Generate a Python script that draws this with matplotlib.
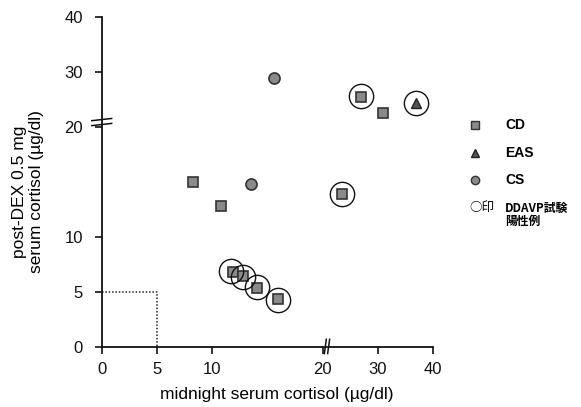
import numpy as np
import matplotlib
matplotlib.use("Agg")
import matplotlib.pyplot as plt
from matplotlib.lines import Line2D

plt.rcParams['font.family'] = ['Liberation Sans', 'Noto Sans CJK JP', 'DejaVu Sans']

# ---- data ----
cd_x = [8.3, 10.8, 11.9, 12.8, 14.1, 16.0, 23.6, 26.9, 31.0]
cd_y = [15.0, 12.8, 6.8, 6.5, 5.4, 4.4, 13.9, 25.5, 22.5]
eas_x = [36.9]
eas_y = [24.4]
cs_x = [15.6, 13.5]
cs_y = [29.0, 14.8]
pos_x = [11.7, 12.8, 14.1, 16.0, 23.6, 26.9, 36.9]   # DDAVP test positive (circled)
pos_y = [6.9, 6.4, 5.5, 4.3, 13.9, 25.6, 24.4]
ticks = [0, 5, 10, 20, 30, 40]
cut_x = [0, 5, 5]
cut_y = [5, 5, 0]
legend_labels = ["CD", "EAS", "CS", "DDAVP試験\n陽性例"]
xlabel = "midnight serum cortisol (µg/dl)"
ylabel = "post-DEX 0.5 mg\nserum cortisol (µg/dl)"


def fwd(v):
    v = np.asarray(v, dtype=float)
    return np.where(v <= 20, v, 20 + (v - 20) / 2.0)


def inv(t):
    t = np.asarray(t, dtype=float)
    return np.where(t <= 20, t, 20 + (t - 20) * 2.0)


W, H = 581, 407
fig = plt.figure(figsize=(W / 100, H / 100), dpi=100)
ax = fig.add_axes([101.7 / W, (H - 347) / H, 331.3 / W, 330 / H])
ax.set_xscale('function', functions=(fwd, inv))
ax.set_yscale('function', functions=(fwd, inv))
ax.set_xlim(0, 40)
ax.set_ylim(0, 40)
ax.set_xticks(ticks)
ax.set_yticks(ticks)
ax.set_xticklabels([str(t) for t in ticks])
ax.set_yticklabels([str(t) for t in ticks])
ax.minorticks_off()
for s in ['top', 'right']:
    ax.spines[s].set_visible(False)
for s in ['left', 'bottom']:
    ax.spines[s].set_linewidth(1.3)
    ax.spines[s].set_color('#111111')
ax.tick_params(axis='both', direction='out', length=5, width=1.2, labelsize=12,
               colors='#111111')
ax.tick_params(axis='x', pad=5.5)
ax.tick_params(axis='y', pad=8.5)

# threshold box
ax.plot(cut_x, cut_y, linestyle=(0, (1, 1.2)), color='#222222', lw=1.1, clip_on=False)

mfc = '#8a8a8a'
mec = '#333333'
ax.plot(cd_x, cd_y, 's', ms=7.5, mfc=mfc, mec=mec, mew=1.2, ls='none', zorder=3)
ax.plot(eas_x, eas_y, '^', ms=7, mfc='#555555', mec='#222222', mew=1.0, ls='none', zorder=3)
ax.plot(cs_x, cs_y, 'o', ms=8, mfc=mfc, mec=mec, mew=1.2, ls='none', zorder=3)
ax.plot(pos_x, pos_y, 'o', ms=17.5, mfc='none', mec='#111111', mew=1.0, ls='none', zorder=4)

# axis break marks
bx = fwd(21.6)
for dx in (-0.3, 0.3):
    ax.plot([bx + dx - 0.18, bx + dx + 0.18], [-0.6, 0.7], color='#111111', lw=1.1,
            clip_on=False)
by = fwd(21.8)
for dy in (-0.45, 0.45):
    ax.plot([-0.9, 0.9], [by + dy - 0.2, by + dy + 0.2], color='#111111', lw=1.1,
            clip_on=False)

fig.text(277 / W, 1 - 395 / H, xlabel, fontsize=12.5, ha='center', va='center')
fig.text(28 / W, 1 - 192 / H, ylabel, fontsize=12.5, ha='center', va='center',
         rotation=90, linespacing=1.2, multialignment='center')

# legend (manual)
lx_m = 475 / W
lx_t = 505 / W
rows = [125, 153, 180]
styles = [('s', 6, mfc, mec), ('^', 5.5, '#555555', '#222222'), ('o', 6, mfc, mec)]
for (m, ms, fc, ec), r, lab in zip(styles, rows, legend_labels[:3]):
    yy = 1 - r / H
    fig.add_artist(Line2D([lx_m], [yy], marker=m, ms=ms, mfc=fc, mec=ec, mew=1.0,
                          ls='none', transform=fig.transFigure))
    fig.text(lx_t, yy, lab, fontsize=10, fontweight='bold', va='center', ha='left')
fig.text(469 / W, 1 - 208 / H, "○印", fontsize=9, va='center', ha='left',
         family=['Noto Sans CJK JP', 'DejaVu Sans'])
fig.text(lx_t, 1 - 215 / H, legend_labels[3], fontsize=8.5, fontweight='bold',
         va='center', ha='left', linespacing=1.0,
         family=['Noto Sans CJK JP', 'DejaVu Sans'])

fig.savefig('out.png', dpi=100)
